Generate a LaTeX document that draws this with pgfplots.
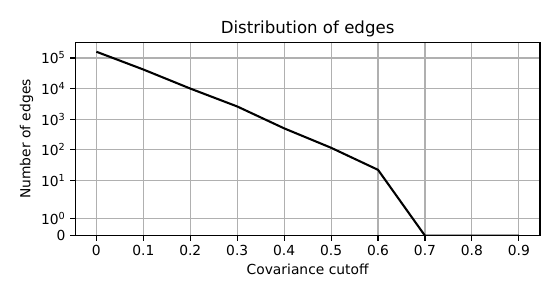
\documentclass[border=0pt]{standalone}
\usepackage{fontspec}
\setmainfont{DejaVu Sans}
\usepackage{pgfplots}
\pgfplotsset{compat=1.18}
\definecolor{gridgray}{HTML}{B0B0B0}
\newcommand\symlogres{}
\newcommand\sci[1]{10\textsuperscript{#1}}
\begin{document}
\begin{tikzpicture}
\begin{axis}[
  scale only axis,
  width=334.6bp, height=139.2bp,
  xmin=-0.045, xmax=0.945,
  y coord trafo/.code={%
    \begingroup
    \pgfkeys{/pgf/fpu=true,/pgf/fpu/output format=fixed}%
    \pgfmathparse{ifthenelse(#1>2,1.1111111+ln(max(#1,2)/2)*0.4342945,#1*0.5555556)}%
    \xdef\symlogres{\pgfmathresult}%
    \endgroup
    \let\pgfmathresult\symlogres
  },
  ymin=0, ymax=324000,
  xtick={0,0.1,0.2,0.3,0.4,0.5,0.6,0.7,0.8,0.9},
  xticklabels={0,0.1,0.2,0.3,0.4,0.5,0.6,0.7,0.8,0.9},
  ytick={0,1,10,100,1000,10000,100000},
  yticklabels={0,\sci{0},\sci{1},\sci{2},\sci{3},\sci{4},\sci{5}},
  xtick pos=left, ytick pos=left,
  tick align=outside,
  major tick length=3.5pt,
  minor tick num=0,
  tick style={black, line width=0.8pt},
  axis line style={black, line width=0.8pt},
  grid=major,
  major grid style={gridgray, line width=0.8pt},
  tick label style={font=\fontsize{10}{12}\selectfont},
  every axis title shift=0pt,
  title={Distribution of edges},
  title style={at={(axis description cs:0.5,1.0453)}, anchor=base, font=\fontsize{12}{14}\selectfont, inner sep=0pt},
  xlabel={Covariance cutoff},
  xlabel style={at={(axis description cs:0.5,-0.2033)}, anchor=base, font=\fontsize{10}{12}\selectfont, inner sep=0pt},
  ylabel={Number of edges},
  ylabel style={at={(axis description cs:-0.0968,0.5)}, rotate=0, anchor=base, font=\fontsize{10}{12}\selectfont, inner sep=0pt},
]
\addplot[black, line width=1.5pt] coordinates {
  (0.0,160000) (0.1,42000) (0.2,10000) (0.3,2600) (0.4,500)
  (0.5,116) (0.6,22) (0.7,0) (0.8,0) (0.9,0)
};
\coordinate (bl) at (rel axis cs:0,0);
\coordinate (tr) at (rel axis cs:1,1);
\end{axis}
\pgfresetboundingbox
\path ([shift={(-54.2bp,-44.9bp)}]bl) rectangle ([shift={(13.7bp,30.5bp)}]tr);
\end{tikzpicture}
\end{document}
